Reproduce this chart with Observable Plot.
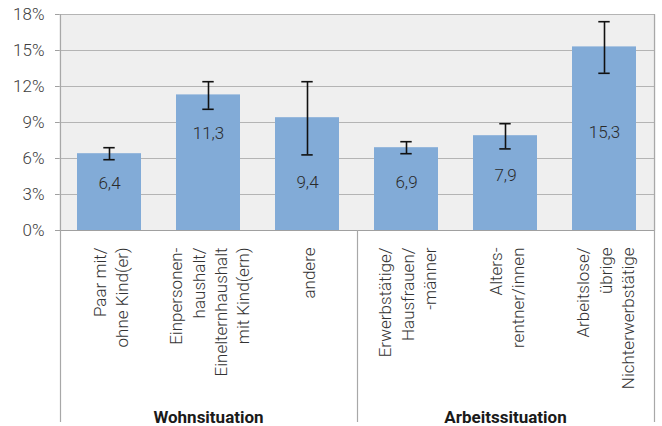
<!DOCTYPE html>
<html>
<head>
<meta charset="utf-8">
<script src="https://cdn.jsdelivr.net/npm/d3@7"></script>
<script src="https://cdn.jsdelivr.net/npm/@observablehq/plot@0.6"></script>
<style>
  html, body { margin: 0; padding: 0; background: #fff; }
  #chart svg { display: block; }
</style>
</head>
<body>
<div id="chart"></div>
<script>
const categories = [
  "Paar mit/\nohne Kind(er)",
  "Einpersonen-\nhaushalt/\nEinelternhaushalt\nmit Kind(ern)",
  "andere",
  "Erwerbstätige/\nHausfrauen/\n-männer",
  "Alters-\nrentner/innen",
  "Arbeitslose/\nübrige\nNichterwerbstätige"
];
const values = [6.4, 11.3, 9.4, 6.9, 7.9, 15.3];
const lower = [5.9, 10.1, 6.3, 6.4, 6.8, 13.1];
const upper = [6.9, 12.4, 12.4, 7.4, 8.9, 17.4];
const valueLabels = ["6,4", "11,3", "9,4", "6,9", "7,9", "15,3"];
const labelAt = [3.9, 8.1, 4.0, 4.0, 4.6, 8.2];
const groups = ["Wohnsituation", "Arbeitssituation"];
const groupCenter = [1, 4];
const groupBounds = [0, 3, 6];
const yTicks = [0, 3, 6, 9, 12, 15, 18];

const rows = categories.map((c, i) => ({
  cat: c, value: values[i], lo: lower[i], hi: upper[i],
  label: valueLabels[i], labelY: labelAt[i]
}));

const chart = Plot.plot({
  width: 662,
  height: 426,
  marginLeft: 59,
  marginRight: 7,
  marginTop: 14,
  marginBottom: 196,
  style: { fontFamily: "Roboto", fontSize: "17px", fontWeight: 300, color: "#404040", background: "#fff" },
  x: { domain: categories, paddingInner: 0.35, paddingOuter: 0.175, axis: null },
  y: { domain: [0, 18], ticks: yTicks, axis: null },
  marks: [
    Plot.frame({ fill: "#efefef", stroke: null }),
    Plot.gridY(yTicks, { stroke: "#b4b4b4", strokeOpacity: 1, strokeWidth: 1 }),
    Plot.barY(rows, { x: "cat", y: "value", fill: "#82abd7" }),
    Plot.ruleX(rows, { x: "cat", y1: "lo", y2: "hi", stroke: "#111", strokeWidth: 1.6 }),
    Plot.tickY(rows, { x: "cat", y: "lo", stroke: "#111", strokeWidth: 1.6, insetLeft: 26.3, insetRight: 26.3 }),
    Plot.tickY(rows, { x: "cat", y: "hi", stroke: "#111", strokeWidth: 1.6, insetLeft: 26.3, insetRight: 26.3 }),
    Plot.text(rows, { x: "cat", y: "labelY", text: "label", fill: "#2a2a2a", fontSize: 17, fontWeight: 300 }),
    Plot.axisY({ ticks: yTicks, tickFormat: d => d + "%", tickSize: 4, tickPadding: 11, stroke: "#a0a0a0", fill: "#404040", fontSize: 17, fontWeight: 300 }),
    Plot.ruleY([0], { stroke: "#a0a0a0", strokeWidth: 1.2 }),
    Plot.text(rows, {
      x: "cat", frameAnchor: "bottom", dy: 17, text: "cat", rotate: -90,
      textAnchor: "end", lineAnchor: "middle", lineHeight: 1.3,
      fontSize: 17, fontWeight: 300, fill: "#333"
    }),
    Plot.text(groups, {
      x: (d, i) => categories[groupCenter[i]], frameAnchor: "bottom", dy: 187,
      text: d => d, fontWeight: "bold", fontSize: 17, fill: "#1a1a1a", lineAnchor: "middle"
    })
  ]
});

// group separator lines drawn through the x scale
const xs = chart.scale("x");
const half = (xs.step - xs.bandwidth) / 2;
const boundX = b => b < categories.length
  ? xs.apply(categories[b]) - half
  : xs.apply(categories[categories.length - 1]) + xs.bandwidth + half;
const svg = d3.select(chart);
const yTop = 14, yBase = 426 - 196, yEnd = 422;
groupBounds.forEach(b => {
  const x = Math.round(boundX(b)) + 0.5;
  svg.append("line")
    .attr("x1", x).attr("x2", x)
    .attr("y1", b === 0 || b === categories.length ? yTop : yBase)
    .attr("y2", yEnd)
    .attr("stroke", "#a8a8a8").attr("stroke-width", 1.2);
});
document.getElementById("chart").appendChild(chart);
</script>
</body>
</html>
